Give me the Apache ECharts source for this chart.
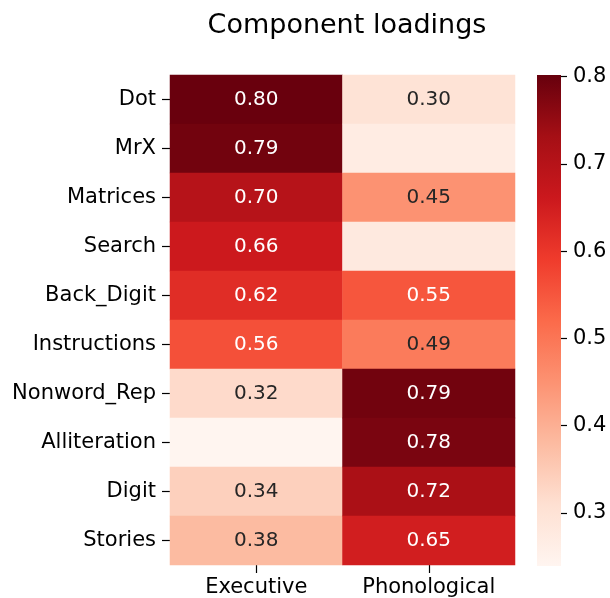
<!DOCTYPE html>
<html lang="en">
<head>
  <meta charset="UTF-8" />
  <title>Component loadings</title>
  <script src="https://cdn.jsdelivr.net/npm/echarts@6/dist/echarts.min.js"></script>
  <style>
    body { margin: 0; padding: 0; background: #fff; }
    #chart { width: 610px; height: 598px; }
  </style>
</head>
<body>
  <div id="chart"></div>
  <script>
    const tests = ["Dot", "MrX", "Matrices", "Search", "Back_Digit", "Instructions",
                   "Nonword_Rep", "Alliteration", "Digit", "Stories"];
    const components = ["Executive", "Phonological"];
    const executive = [0.80, 0.79, 0.70, 0.66, 0.62, 0.56, 0.32, 0.24, 0.34, 0.38];
    const phonological = [0.30, 0.27, 0.45, 0.28, 0.55, 0.49, 0.79, 0.78, 0.72, 0.65];
    // cells without a printed value in the original
    const hidden = [[1, 1], [3, 1], [7, 0]];
    const cbTicks = [0.3, 0.4, 0.5, 0.6, 0.7, 0.8];

    const vmin = 0.239, vmax = 0.802;
    const reds = ['#fff5f0', '#fee0d2', '#fcbba1', '#fc9272', '#fb6a4a', '#ef3b2c', '#cb181d', '#a50f15', '#67000d'];
    const font = 'DejaVu Sans';

    const cells = [];
    [executive, phonological].forEach((col, c) => {
      col.forEach((v, r) => {
        const isHidden = hidden.some(h => h[0] === r && h[1] === c);
        cells.push({
          value: [c, r, v],
          label: {
            show: !isHidden,
            color: v > 0.52 ? '#ffffff' : '#262626'
          }
        });
      });
    });

    const chart = echarts.init(document.getElementById("chart"));
    chart.setOption({
      animation: false,
      title: {
        text: 'Component loadings',
        left: 342,
        textAlign: 'center',
        top: 7,
        textStyle: { fontFamily: font, fontSize: 27, fontWeight: 'normal', color: '#000' }
      },
      grid: [
        { left: 170, top: 75, width: 345, height: 491 },
        { left: 561, top: 75, width: 20, height: 491 }
      ],
      xAxis: [{
        gridIndex: 0,
        type: 'category',
        data: components,
        axisLine: { show: false },
        axisTick: { show: true, alignWithLabel: true, interval: 0, length: 8, lineStyle: { color: '#000', width: 1.2 } },
        axisLabel: { interval: 0, hideOverlap: false, fontFamily: font, fontSize: 21, color: '#000', margin: 12 }
      }, {
        gridIndex: 1,
        type: 'value',
        show: false,
        min: 0, max: 1
      }],
      yAxis: [{
        gridIndex: 0,
        type: 'category',
        data: tests,
        inverse: true,
        axisLine: { show: false },
        axisTick: { show: true, alignWithLabel: true, interval: 0, length: 8, lineStyle: { color: '#000', width: 1.2 } },
        axisLabel: { interval: 0, fontFamily: font, fontSize: 21, color: '#000', margin: 14 }
      }, {
        // colorbar scale, drawn just right of the bar
        gridIndex: 1,
        type: 'value',
        position: 'left',
        min: vmin,
        max: vmax,
        axisLine: { show: false },
        splitLine: { show: false },
        axisTick: { show: true, inside: true, length: 6, customValues: cbTicks, lineStyle: { color: '#000', width: 1.2 } },
        axisLabel: {
          inside: true,
          customValues: cbTicks,
          fontFamily: font, fontSize: 21, color: '#000', margin: 12,
          formatter: v => v.toFixed(1)
        }
      }],
      visualMap: {
        show: false,
        min: vmin,
        max: vmax,
        dimension: 2,
        seriesIndex: 0,
        inRange: { color: reds }
      },
      graphic: [{
        type: 'rect',
        shape: { x: 537, y: 75, width: 24, height: 491 },
        style: {
          fill: new echarts.graphic.LinearGradient(0, 0, 0, 1,
            reds.slice().reverse().map((c, i) => ({ offset: i / (reds.length - 1), color: c })))
        },
        z: -1
      }],
      series: [{
        type: 'heatmap',
        xAxisIndex: 0,
        yAxisIndex: 0,
        data: cells,
        label: {
          show: true,
          fontFamily: font,
          fontSize: 20,
          formatter: p => p.value[2].toFixed(2)
        },
        itemStyle: { borderWidth: 0 }
      }]
    });
  </script>
</body>
</html>
